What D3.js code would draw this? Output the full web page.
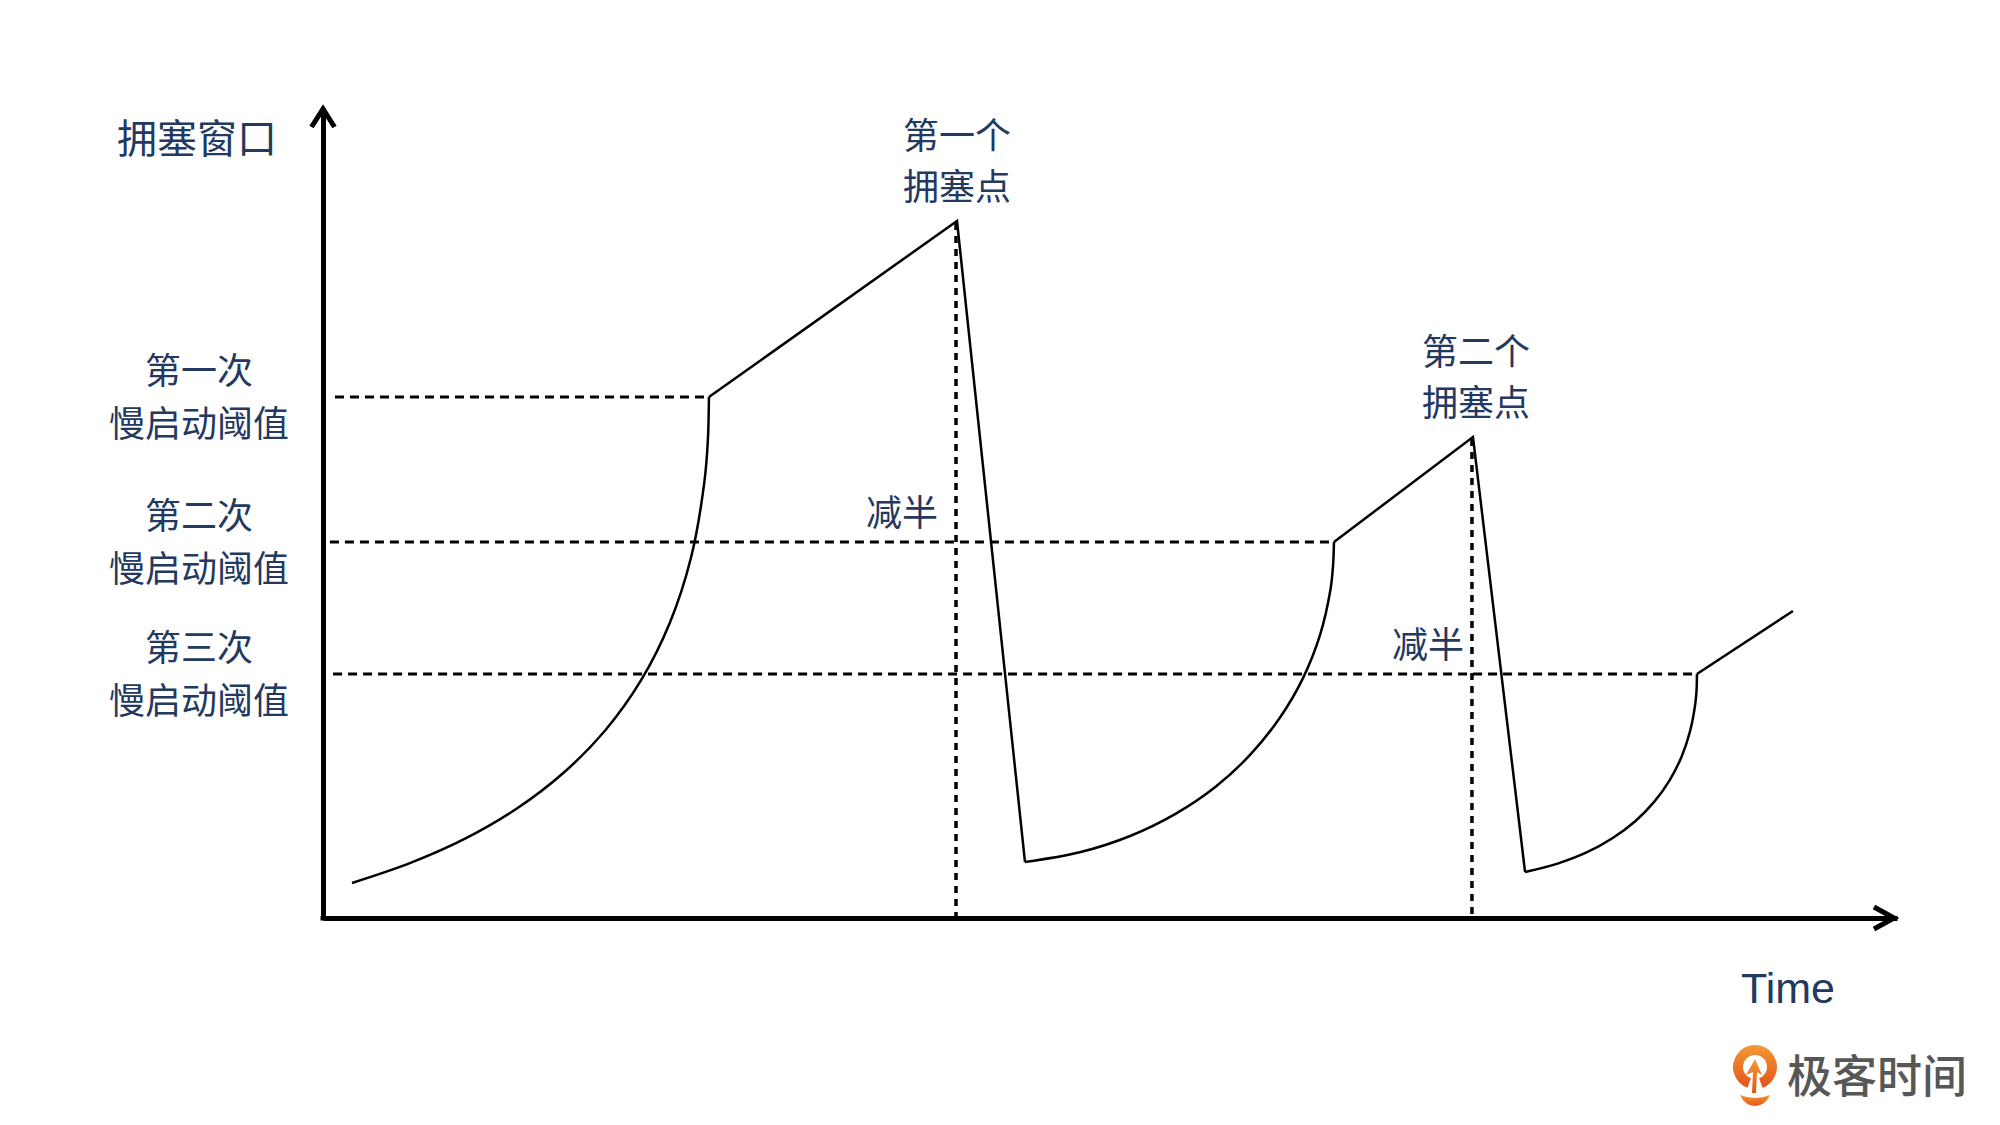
<!DOCTYPE html>
<html>
<head>
<meta charset="utf-8">
<script src="https://cdn.jsdelivr.net/npm/d3@7"></script>
<style>
  html, body { margin: 0; padding: 0; background: #fff; }
  svg { display: block; }
</style>
</head>
<body>
<svg id="chart" width="2000" height="1125"></svg>
<script>
// ---------- data (time units on x, congestion window units on y) ----------
const yTitle = "拥塞窗口";
const xTitle = "Time";

// slow-start curves
const slowStart1 = [[1.84,4.32],[5.56,6.80],[9.09,9.85],[12.34,13.54],[15.32,17.99],[17.95,23.21],[20.20,29.33],[22.03,36.43],[23.39,44.57],[24.23,53.84],[24.45,58.93],[24.52,64.32]];
const slowStart2 = [[44.60,6.91],[48.08,8.11],[51.28,10.12],[54.16,12.85],[56.73,16.23],[58.94,20.22],[60.79,24.72],[62.27,29.65],[63.35,34.98],[64.01,40.58],[64.17,43.48],[64.23,46.42]];
const slowStart3 = [[76.37,5.68],[78.44,6.72],[80.31,8.12],[81.94,9.88],[83.37,11.95],[84.57,14.33],[85.55,17.00],[86.32,19.94],[86.86,23.11],[87.19,26.52],[87.27,28.28],[87.29,30.12]];

// congestion avoidance + drop (straight segments)
const linear1 = [[24.52,64.32],[40.28,86.05],[44.60,6.91]];
const linear2 = [[64.23,46.42],[73.06,59.38],[76.37,5.68]];
const linear3 = [[87.29,30.12],[93.39,37.90]];

// slow-start thresholds
const thresholds     = [64.32, 46.42, 30.12];
const thresholdStart = [0.76, 0.44, 0.64];
const thresholdEnd   = [24.52, 64.23, 87.29];
const thresholdLabels = [["第一次","慢启动阈值"],["第二次","慢启动阈值"],["第三次","慢启动阈值"]];

// congestion points
const peaks = [[40.28,86.05],[73.06,59.38]];
const peakLabels = [["第一个","拥塞点"],["第二个","拥塞点"]];
const halfLabel = "减半";
const halfLevels = [46.42, 30.12];

// ---------- drawing ----------
const svg = d3.select("#chart");
const navy = "#24395f";
const cjk = "'Noto Sans CJK SC', 'Noto Sans', sans-serif";

const x = d3.scaleLinear().domain([0, 100]).range([323, 1897]);
const y = d3.scaleLinear().domain([0, 100]).range([918, 108]);

// threshold dashed lines
svg.append("g").selectAll("line").data(thresholds).join("line")
  .attr("x1", (d, i) => x(thresholdStart[i]))
  .attr("x2", (d, i) => x(thresholdEnd[i]))
  .attr("y1", d => y(d)).attr("y2", d => y(d))
  .attr("stroke", "#000").attr("stroke-width", 3)
  .attr("stroke-dasharray", "9,6");

// vertical dotted lines at congestion points
svg.append("g").selectAll("line").data(peaks).join("line")
  .attr("x1", d => x(d[0]) - 1).attr("x2", d => x(d[0]) - 1)
  .attr("y1", d => y(d[1]) + 2).attr("y2", y(0))
  .attr("stroke", "#000").attr("stroke-width", 3.5)
  .attr("stroke-dasharray", "7,6");

// axes
const xAxis = d3.axisBottom(x).tickValues([]).tickSizeOuter(0);
const yAxis = d3.axisLeft(y).tickValues([]).tickSizeOuter(0);
const gx = svg.append("g").attr("transform", `translate(0,${y(0)})`).call(xAxis);
const gy = svg.append("g").attr("transform", `translate(${x(0)},0)`).call(yAxis);
gx.select(".domain").attr("stroke", "#000").attr("stroke-width", 5);
gy.select(".domain").attr("stroke", "#000").attr("stroke-width", 5);
svg.append("rect").attr("x", x(0) - 2.5).attr("y", y(0) - 2).attr("width", 5).attr("height", 4.5).attr("fill", "#000");

// arrow heads
svg.append("path")
  .attr("d", `M${x(0) - 11.5},${y(100) + 19} L${x(0)},${y(100) + 1} L${x(0) + 11.5},${y(100) + 19}`)
  .attr("fill", "none").attr("stroke", "#000").attr("stroke-width", 5).attr("stroke-linejoin", "miter");
svg.append("path")
  .attr("d", `M${x(100) - 23},${y(0) - 11} L${x(100) - 3},${y(0)} L${x(100) - 23},${y(0) + 11}`)
  .attr("fill", "none").attr("stroke", "#000").attr("stroke-width", 5).attr("stroke-linejoin", "miter");

// curves
const curveLine = d3.line().x(d => x(d[0])).y(d => y(d[1])).curve(d3.curveCatmullRom.alpha(0.5));
const straight = d3.line().x(d => x(d[0])).y(d => y(d[1]));
const g = svg.append("g").attr("fill", "none").attr("stroke", "#000").attr("stroke-width", 2.5).attr("stroke-linejoin", "miter");
[slowStart1, slowStart2, slowStart3].forEach(s => g.append("path").attr("d", curveLine(s)));
[linear1, linear2, linear3].forEach(s => g.append("path").attr("d", straight(s)));

// y title
svg.append("text").text(yTitle)
  .attr("x", 117).attr("y", 136)
  .attr("dominant-baseline", "central")
  .attr("font-family", cjk).attr("font-size", 40).attr("fill", navy);

// threshold labels
thresholdLabels.forEach((lines, i) => {
  lines.forEach((t, j) => {
    svg.append("text").text(t)
      .attr("x", 199).attr("y", y(thresholds[i]) + (j === 0 ? -29 : 24))
      .attr("text-anchor", "middle").attr("dominant-baseline", "central")
      .attr("font-family", cjk).attr("font-size", 36).attr("fill", navy);
  });
});

// peak labels
const peakLabelShift = [0, 3];
peakLabels.forEach((lines, i) => {
  lines.forEach((t, j) => {
    svg.append("text").text(t)
      .attr("x", x(peaks[i][0]) + peakLabelShift[i]).attr("y", y(peaks[i][1]) + (j === 0 ? -88 : -37))
      .attr("text-anchor", "middle").attr("dominant-baseline", "central")
      .attr("font-family", cjk).attr("font-size", 36).attr("fill", navy);
  });
});

// halving labels
const halfGap = [19, 9];
peaks.forEach((p, i) => {
  svg.append("text").text(halfLabel)
    .attr("x", x(p[0]) - halfGap[i]).attr("y", y(halfLevels[i]) - 32)
    .attr("text-anchor", "end").attr("dominant-baseline", "central")
    .attr("font-family", cjk).attr("font-size", 36).attr("fill", navy);
});

// x title
svg.append("text").text(xTitle)
  .attr("x", 1741).attr("y", 1003)
  .attr("font-family", "'Liberation Sans', Arial, sans-serif").attr("font-size", 43).attr("fill", navy);

// logo
const defs = svg.append("defs");
const grad = defs.append("linearGradient").attr("id", "lg").attr("x1", 0).attr("y1", 0).attr("x2", 0).attr("y2", 1);
grad.append("stop").attr("offset", "0%").attr("stop-color", "#f29a35");
grad.append("stop").attr("offset", "100%").attr("stop-color", "#e4531b");
const logo = svg.append("g").attr("fill", "url(#lg)");
logo.append("path")
  .attr("d", "M1747.5,1087.7 A22,22 0 1 1 1762.5,1087.7 L1759.1,1078.3 A12,12 0 1 0 1750.9,1078.3 Z");
logo.append("path")
  .attr("d", "M1752,1093 L1753,1072 L1746,1075 L1755,1059 L1762,1075 L1757,1072 L1756,1093 Z");
logo.append("path")
  .attr("d", "M1740,1095 Q1755,1101 1770,1095 Q1765,1106 1755,1106 Q1745,1106 1740,1095 Z");
svg.append("text").text("极客时间")
  .attr("x", 1787).attr("y", 1073)
  .attr("dominant-baseline", "central")
  .attr("font-family", cjk).attr("font-size", 45).attr("font-weight", 500).attr("fill", "#575757");
</script>
</body>
</html>
